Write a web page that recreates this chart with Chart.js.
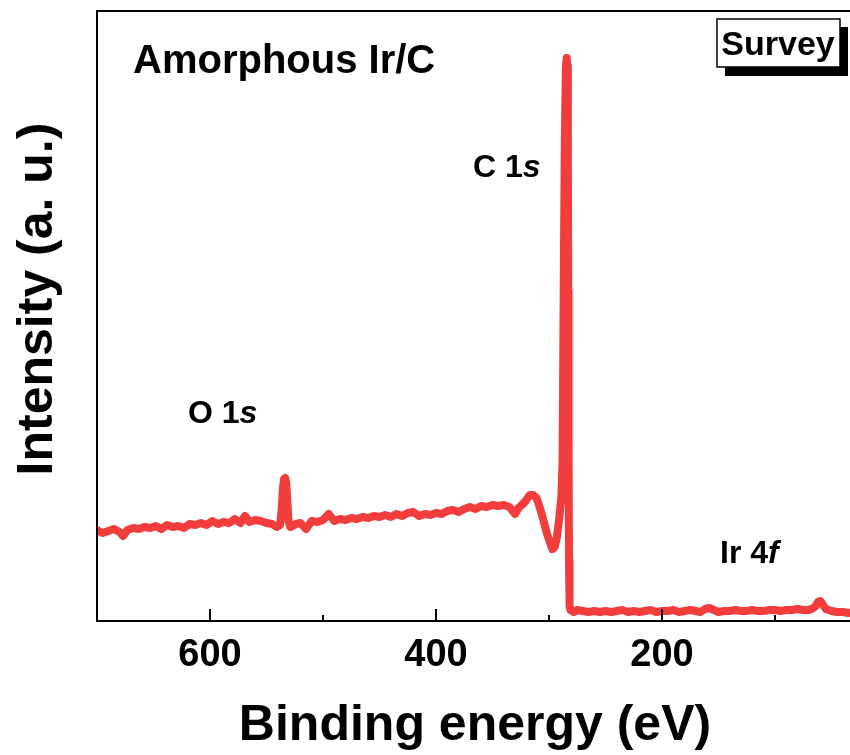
<!DOCTYPE html>
<html>
<head>
<meta charset="utf-8">
<script src="https://cdn.jsdelivr.net/npm/chart.js@4"></script>
<style>
  html, body { margin: 0; padding: 0; background: #fff; overflow: hidden; }
  #wrap { width: 900px; height: 755px; }
</style>
</head>
<body>
<div id="wrap"><canvas id="chart" width="900" height="755"></canvas></div>
<script>
// binding energy (eV) and intensity (a. u.)
var energy = [700, 695, 690, 685, 680, 677, 673, 668, 663, 658, 653, 648, 643, 638, 633, 628, 623, 618, 613, 608,
    603, 598, 593, 588, 583, 578, 573, 569, 565, 560, 555, 550, 545, 541, 538, 536.5, 535.5, 534.5, 533.5, 532.5,
    531.5, 530.5, 529, 527, 524, 520, 515, 510, 505, 500, 495, 490, 485, 480, 475, 470, 465, 460, 455, 450,
    445, 440, 435, 430, 425, 420, 415, 410, 405, 400, 395, 390, 385, 380, 375, 370, 365, 360, 355, 350,
    345, 340, 335, 330, 327, 324, 320, 317, 314, 311, 308, 305, 302, 299, 297, 295, 293, 291, 289, 288,
    287, 286, 285, 284.3, 283.7, 283.3, 283, 282.7, 282.3, 281.8, 281, 278, 275, 270, 265, 260, 255, 250,
    245, 240, 235, 230, 225, 220, 215, 210, 205, 200, 195, 190, 185, 180, 175, 170, 166, 162, 158, 150,
    145, 140, 135, 130, 125, 120, 115, 110, 105, 100, 95, 90, 85, 80, 75, 70, 68, 66, 64, 62,
    60, 58, 55, 50, 45, 40, 35, 30, 25, 20];
var intensity = [91, 88, 90, 92, 89, 85, 91, 93, 92, 94, 93, 95, 92, 96, 94, 95, 93, 97, 96, 98,
    96, 100, 97, 99, 98, 102, 98, 105, 99, 101, 100, 98, 97, 94, 96, 112, 132, 142, 143, 138,
    118, 100, 94, 95, 97, 98, 92, 100, 99, 101, 107, 100, 102, 101, 103, 102, 104, 103, 105, 104,
    106, 104, 107, 105, 108, 109, 105, 107, 106, 108, 107, 110, 111, 109, 112, 114, 112, 115, 114, 116,
    115, 116, 114, 107, 113, 116, 121, 126, 126, 123, 113, 101, 88, 78, 72, 74, 84, 102, 125, 160,
    330, 480, 555, 563, 555, 470, 330, 180, 60, 15, 11, 9, 11, 10, 9, 10, 9, 10, 9, 10,
    11, 9, 10, 9, 10, 11, 9, 10, 10, 11, 9, 10, 11, 10, 9, 12, 13, 9, 10, 10,
    11, 10, 10, 11, 10, 10, 11, 11, 10, 11, 11, 12, 11, 11, 12, 13, 15, 19, 20, 17,
    12, 10, 9, 9, 8, 9, 8, 8, 8, 8];

var majorTicks = [600, 400, 200, 0];
var minorTicks = [500, 300, 100];
var tickLabels = ['600', '400', '200'];

var points = energy.map(function (e, i) { return { x: e, y: intensity[i] }; });

var FONT = 'Arial, "Liberation Sans", sans-serif';

var decor = {
    id: 'decor',
    afterDraw: function (chart) {
        var c = chart.ctx;
        var a = chart.chartArea;
        var xs = chart.scales.x;
        c.save();
        // frame
        c.strokeStyle = '#000';
        c.lineWidth = 2;
        c.strokeRect(a.left, a.top, a.right - a.left, a.bottom - a.top);
        // inward ticks on the bottom axis
        majorTicks.forEach(function (v) {
            var px = xs.getPixelForValue(v);
            c.beginPath(); c.moveTo(px, a.bottom); c.lineTo(px, a.bottom - 12); c.stroke();
        });
        minorTicks.forEach(function (v) {
            var px = xs.getPixelForValue(v);
            c.beginPath(); c.moveTo(px, a.bottom); c.lineTo(px, a.bottom - 6); c.stroke();
        });

        c.fillStyle = '#000';
        c.textBaseline = 'alphabetic';
        // axis titles
        c.font = 'bold 50px ' + FONT;
        c.textAlign = 'center';
        c.fillText('Binding energy (eV)', 475, 740);
        c.save();
        c.translate(52, 299);
        c.rotate(-Math.PI / 2);
        c.fillText('Intensity (a. u.)', 0, 0);
        c.restore();

        c.textAlign = 'left';
        c.font = 'bold 40px ' + FONT;
        c.fillText('Amorphous Ir/C', 133, 73);

        function peakLabel(main, it, x, y) {
            c.font = 'bold 32px ' + FONT;
            c.fillText(main, x, y);
            var w = c.measureText(main).width;
            c.font = 'italic bold 32px ' + FONT;
            c.fillText(it, x + w, y);
        }
        peakLabel('C 1', 's', 473, 177);
        peakLabel('O 1', 's', 188, 423);
        peakLabel('Ir 4', 'f', 720, 563);

        // Survey box with shadow
        c.fillStyle = '#000';
        c.fillRect(725, 27, 123, 49);
        c.fillStyle = '#fff';
        c.fillRect(717, 19, 123, 48);
        c.lineWidth = 1.5;
        c.strokeRect(717, 19, 123, 48);
        c.fillStyle = '#000';
        c.textAlign = 'center';
        c.font = 'bold 34px ' + FONT;
        c.fillText('Survey', 778, 55);
        c.restore();
    }
};

var ctx = document.getElementById('chart').getContext('2d');
var chart = new Chart(ctx, {
    type: 'line',
    data: {
        datasets: [{
            data: points,
            borderColor: '#f23d3d',
            borderWidth: 8,
            pointRadius: 0,
            tension: 0,
            borderJoinStyle: 'round',
            borderCapStyle: 'round',
            fill: false
        }]
    },
    options: {
        responsive: false,
        animation: false,
        layout: { padding: { top: 11, right: 12, left: 0, bottom: 0 } },
        plugins: { legend: { display: false }, tooltip: { enabled: false } },
        scales: {
            x: {
                type: 'linear',
                reverse: true,
                min: 0,
                max: 700,
                grid: { display: false, drawTicks: false },
                border: { display: false },
                afterFit: function (s) { s.height = 134; },
                afterBuildTicks: function (s) {
                    s.ticks = tickLabels.map(function (t) { return { value: Number(t) }; });
                },
                ticks: {
                    autoSkip: false,
                    maxRotation: 0,
                    padding: 12,
                    color: '#000',
                    font: { family: FONT, size: 38, weight: 'bold' },
                    callback: function (v) { return String(v); }
                }
            },
            y: {
                min: 0,
                max: 610,
                display: true,
                grid: { display: false },
                border: { display: false },
                ticks: { display: false },
                afterFit: function (s) { s.width = 97; }
            }
        }
    },
    plugins: [decor]
});
</script>
</body>
</html>
